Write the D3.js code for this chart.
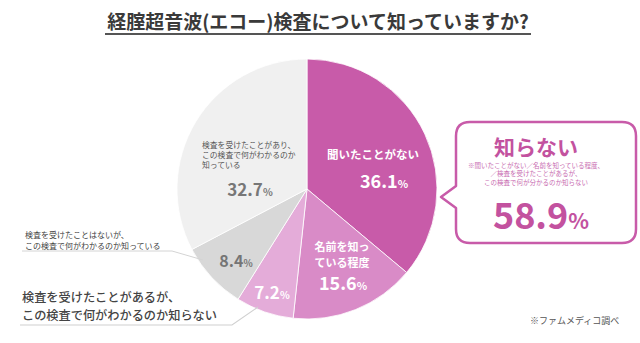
<!DOCTYPE html>
<html><head><meta charset="utf-8">
<script src="https://cdn.jsdelivr.net/npm/d3@7"></script>
<style>
html,body{margin:0;padding:0;background:#fff;}
svg{display:block;font-family:"Noto Sans CJK JP","Noto Sans",sans-serif;}
</style></head>
<body>
<svg id="c" width="640" height="343"></svg>
<script>
// ---- data ----
const title = "経腟超音波(エコー)検査について知っていますか?";
const categories = ["聞いたことがない", "名前を知っている程度", "検査を受けたことがあるが、この検査で何がわかるのか知らない", "検査を受けたことはないが、この検査で何がわかるのか知っている", "検査を受けたことがあり、この検査で何がわかるのか知っている"];
const values = [36.1, 15.6, 7.2, 8.4, 32.7];
const totalUnknown = 58.9;
const calloutTitle = "知らない";
const calloutNote = ["※聞いたことがない／名前を知っている程度、", "／検査を受けたことがあるが、", "この検査で何が分かるのか知らない"];
const source = "※ファムメディコ調べ";

// ---- style ----
const colors = ["#c85ba9", "#d98bc7", "#e4acd9", "#d8d8d8", "#f0f0f0"];
const svg = d3.select("#c");
const cx = 307, cy = 189, R = 130;

// title
svg.append("text").attr("x", 318).attr("y", 29).attr("text-anchor", "middle")
  .attr("font-size", 19).attr("font-weight", 700).attr("fill", "#3a3a3a").text(title);
svg.append("line").attr("x1", 105).attr("x2", 531).attr("y1", 34).attr("y2", 34)
  .attr("stroke", "#555").attr("stroke-width", 2);

// pie
const pie = d3.pie().sort(null).value(d => d)(values);
const arc = d3.arc().innerRadius(0).outerRadius(R);
const g = svg.append("g").attr("transform", `translate(${cx},${cy})`);
g.selectAll("path").data(pie).join("path")
  .attr("d", arc).attr("fill", (d, i) => colors[i])
  .attr("stroke", "#fff").attr("stroke-width", 0.8);

function pct(parent, x, y, v, size, fill) {
  const t = parent.append("text").attr("x", x).attr("y", y).attr("text-anchor", "middle")
    .attr("font-weight", 700).attr("fill", fill).attr("font-size", size);
  t.append("tspan").text(v.toFixed(1));
  t.append("tspan").attr("font-size", size * 0.6).text("%");
  return t;
}
function lines(parent, x, y, arr, size, lh, fill, weight, anchor) {
  arr.forEach((s, i) => parent.append("text").attr("x", x).attr("y", y + i * lh)
    .attr("font-size", size).attr("fill", fill).attr("font-weight", weight)
    .attr("text-anchor", anchor || "start").text(s));
}

// slice 0
lines(svg, 373, 159, ["聞いたことがない"], 11.5, 0, "#fff", 700, "middle");
pct(svg, 384, 188, values[0], 18, "#fff");
// slice 1
lines(svg, 342, 251, ["名前を知っ", "ている程度"], 11, 16, "#fff", 700, "middle");
pct(svg, 343, 290, values[1], 18, "#fff");
// slice 2
pct(svg, 272, 299, values[2], 17, "#fff");
// slice 3
pct(svg, 236, 267, values[3], 16, "#757575");
// slice 4
lines(svg, 202, 148, ["検査を受けたことがあり、", "この検査で何がわかるのか", "知っている"], 7.8, 9.8, "#555", 400);
pct(svg, 250, 196, values[4], 17, "#777");

// left annotations
lines(svg, 25, 238, ["検査を受けたことはないが、", "この検査で何がわかるのか知っている"], 8, 10.5, "#444", 400);
svg.append("polyline").attr("points", "22,251 172,251 203,260")
  .attr("fill", "none").attr("stroke", "#d4d4d4").attr("stroke-width", 1);

lines(svg, 22, 302, ["検査を受けたことがあるが、", "この検査で何がわかるのか知らない"], 12.2, 17.6, "#444", 500);
svg.append("polyline").attr("points", "20,325 232,325 258,307")
  .attr("fill", "none").attr("stroke", "#d0d0d0").attr("stroke-width", 1.2);

// callout
const bx0 = 456, by0 = 122, bx1 = 636, by1 = 243, r = 14;
const p = d3.path();
p.moveTo(bx0 + r, by0);
p.lineTo(bx1 - r, by0); p.quadraticCurveTo(bx1, by0, bx1, by0 + r);
p.lineTo(bx1, by1 - r); p.quadraticCurveTo(bx1, by1, bx1 - r, by1);
p.lineTo(bx0 + r, by1); p.quadraticCurveTo(bx0, by1, bx0, by1 - r);
p.lineTo(bx0, 208); p.lineTo(441, 197); p.lineTo(bx0, 186);
p.lineTo(bx0, by0 + r); p.quadraticCurveTo(bx0, by0, bx0 + r, by0);
p.closePath();
svg.append("path").attr("d", p.toString()).attr("fill", "#fff")
  .attr("stroke", "#c85ba9").attr("stroke-width", 2.5).attr("stroke-linejoin", "round");
lines(svg, 536, 155, [calloutTitle], 21, 0, "#c3529f", 700, "middle");
lines(svg, 536, 167.5, calloutNote, 6.5, 8.5, "#c86bb0", 400, "middle");
pct(svg, 541, 229, totalUnknown, 36, "#c3529f");

// source
svg.append("text").attr("x", 530).attr("y", 324).attr("font-size", 9).attr("fill", "#555").text(source);
</script>
</body></html>
